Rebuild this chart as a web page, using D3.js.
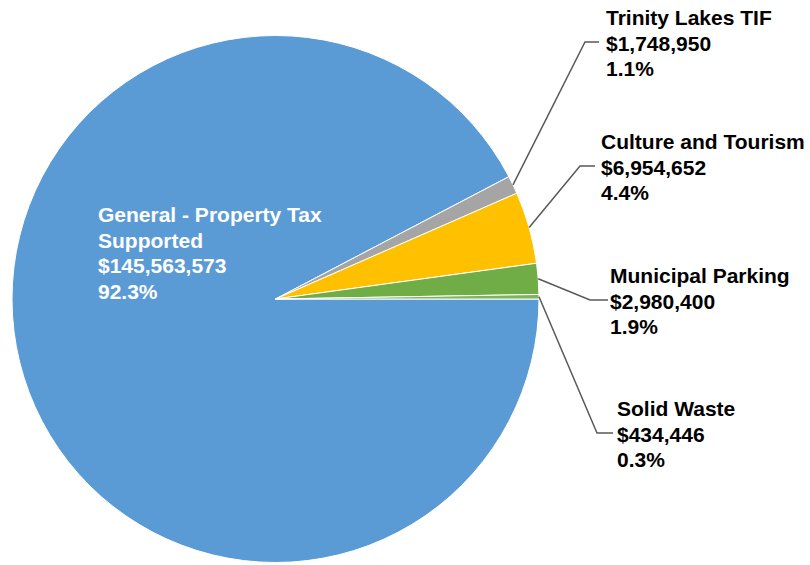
<!DOCTYPE html>
<html lang="en">
<head>
  <meta charset="UTF-8">
  <title>Fund Pie</title>
  <script src="https://d3js.org/d3.v7.min.js"></script>
  <style>
    body { margin: 0; background: #fff; }
    svg { display: block; }
    .lbl { font-family: "Liberation Sans", Arial, sans-serif; font-weight: bold; font-size: 21px; }
    .leader { fill: none; stroke: #595959; stroke-width: 1.5px; }
  </style>
</head>
<body>
  <div id="chart"></div>
  <script>
    // data
    const categories = ['General - Property Tax|Supported', 'Trinity Lakes TIF', 'Culture and Tourism', 'Municipal Parking', 'Solid Waste'];
    const values = [145563573, 1748950, 6954652, 2980400, 434446];
    const colors = ['#5B9BD5', '#A5A5A5', '#FFC000', '#70AD47', '#7DB55A'];

    // label placement (layout only)
    const labelPos = [
      { x: 98, y: 222, inside: true },
      { x: 606, y: 25, bend: [585, 42], end: 599 },
      { x: 601, y: 149, bend: [580, 166], end: 595 },
      { x: 610, y: 283, bend: [590, 300], end: 608 },
      { x: 617, y: 416, bend: [597, 433], end: 613 }
    ];

    const W = 810, H = 565, cx = 275.5, cy = 299, R = 263.5, lh = 25.5;
    const total = d3.sum(values);
    const fmtMoney = v => '$' + d3.format(',')(v);
    const fmtPct = v => d3.format('.1f')(v / total * 100) + '%';

    const svg = d3.select('#chart').append('svg').attr('width', W).attr('height', H);
    const g = svg.append('g').attr('transform', `translate(${cx},${cy})`);

    const pie = d3.pie().sort(null).startAngle(Math.PI / 2).endAngle(Math.PI / 2 + 2 * Math.PI);
    const arc = d3.arc().innerRadius(0).outerRadius(R);
    const arcs = pie(values);

    g.selectAll('path.slice')
      .data(arcs)
      .join('path')
      .attr('class', 'slice')
      .attr('d', arc)
      .attr('fill', (d, i) => colors[i])
      .attr('stroke', '#fff')
      .attr('stroke-width', 1);

    // leader lines
    arcs.forEach((d, i) => {
      const p = labelPos[i];
      if (p.inside) return;
      const a = (d.startAngle + d.endAngle) / 2;
      const sx = cx + R * Math.sin(a), sy = cy - R * Math.cos(a);
      svg.append('path').attr('class', 'leader')
        .attr('d', d3.line()([[sx, sy], p.bend, [p.end, p.bend[1]]]));
    });

    // labels
    arcs.forEach((d, i) => {
      const p = labelPos[i];
      const lines = categories[i].split('|').concat([fmtMoney(values[i]), fmtPct(values[i])]);
      const t = svg.append('text').attr('class', 'lbl')
        .attr('fill', p.inside ? '#fff' : '#000');
      lines.forEach((s, k) => {
        t.append('tspan').attr('x', p.x).attr('y', p.y + k * lh).text(s);
      });
    });
  </script>
</body>
</html>
